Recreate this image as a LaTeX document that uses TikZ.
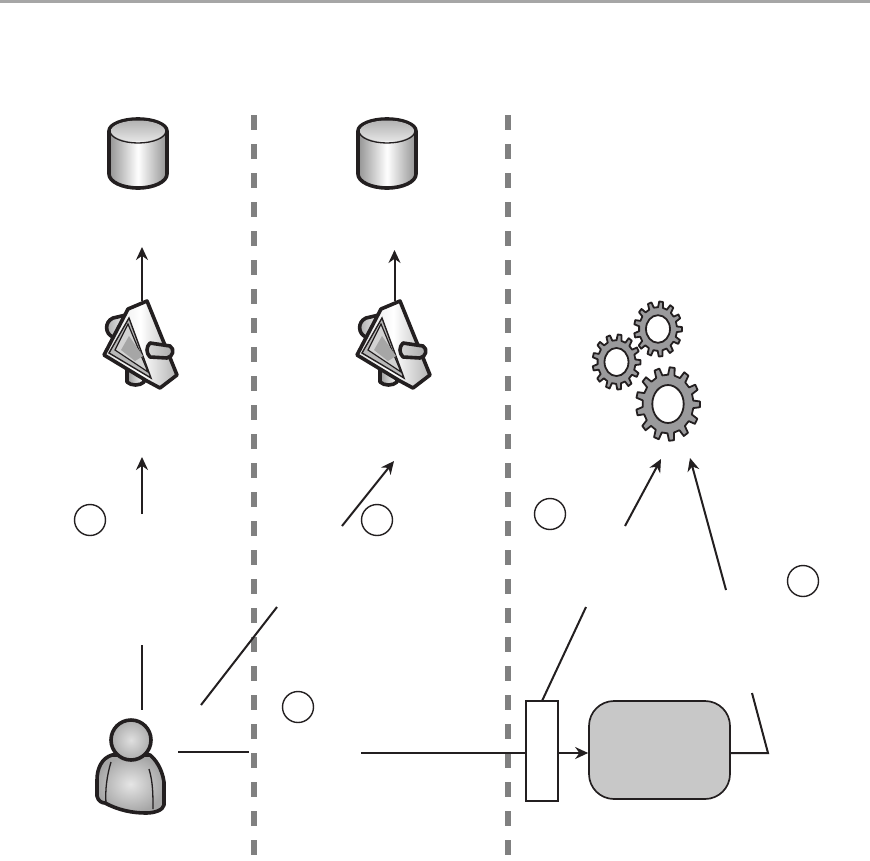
\documentclass[tikz,border=0pt]{standalone}
\usetikzlibrary{arrows.meta,shadings}
\definecolor{ink}{HTML}{231F20}
\definecolor{dashgray}{HTML}{808080}
\definecolor{boxgray}{HTML}{C8C8C8}
\definecolor{geargray}{HTML}{9A9A9C}
\tikzset{
  conn/.style={draw=ink,line width=2pt},
  arr/.style={conn,-{Stealth[length=13pt,width=12pt]}},
  sep/.style={draw=dashgray,line width=6pt,dash pattern=on 15pt off 14pt},
  marker/.style={circle,draw=ink,line width=1.4pt,fill=white,minimum size=31pt,inner sep=0pt},
  iconline/.style={postaction={draw=ink,line width=3.6pt,line join=round}},
  thinline/.style={draw=ink,line width=1.3pt},
  gearbody/.style={draw=ink,line width=1.8pt,fill=geargray,even odd rule,line join=round},
  pics/cyl/.style={code={
    \path[iconline,left color=gray!85,right color=gray!85,middle color=white]
      (-29,0) -- (-29,43) arc[start angle=180,end angle=0,x radius=29,y radius=14]
      -- (29,0) arc[start angle=0,end angle=-180,x radius=29,y radius=12] -- cycle;
    \path[top color=gray!60,bottom color=gray!20] (0,0) ellipse[x radius=27,y radius=10.5];
    \draw[thinline] (-28,0) arc[start angle=180,end angle=0,x radius=28,y radius=12];
  }},
  pics/prism/.style={code={
    \path[iconline,left color=gray!70,right color=white] (-29,17) -- (-16,14) -- (-12,32) -- (-29,36)
       .. controls (-37,33) and (-38,21) .. (-29,17) -- cycle;
    \path[iconline,left color=gray!80,right color=white] (-15,65) -- (-15,81)
       .. controls (-11,85) and (-2,85) .. (2,81) -- (2,65) -- cycle;
    \path[iconline,left color=gray!25,right color=gray!60,middle color=white]
      (5,0) -- (-14,8) -- (-38,54) -- (5,80) -- (18,87) -- (35,74) -- cycle;
    \path[draw=ink,line width=1.4pt,fill=gray!55] (-13,17) -- (-33,52) -- (9,77) -- cycle;
    \path[draw=ink,line width=1.2pt,fill=gray!35] (-14,23) -- (-27,49) -- (6,71) -- cycle;
    \path[fill=gray!70] (-13,35) -- (-21,49) -- (-7,60) -- (1,55) -- cycle;
    \path[iconline,left color=gray!30,right color=gray!70] (8,42)
       -- (28,45) .. controls (33,48) and (31,56) .. (25,57) -- (8,56)
       .. controls (4,52) and (4,46) .. (8,42) -- cycle;
  }}
}
\newcommand{\gearicon}[6]{% cx cy outer inner hole-x hole-y
  \def\gearpath{}%
  \foreach \gi in {0,...,12}{%
    \pgfmathsetmacro{\ga}{\gi*360/13-4}%
    \pgfmathsetmacro{\gb}{\ga+9}%
    \pgfmathsetmacro{\gc}{\ga+12}%
    \pgfmathsetmacro{\gd}{\ga+25}%
    \xdef\gearpath{\gearpath (\ga:#3) -- (\gb:#3) -- (\gc:#4) -- (\gd:#4) -- }%
  }%
  \begin{scope}[shift={(#1,#2)},yscale=1.15]
    \edef\gearcmd{\noexpand\path[gearbody] \gearpath cycle (0,0) ellipse[x radius=#5,y radius=#6];}%
    \gearcmd
  \end{scope}%
}
\begin{document}
\begin{tikzpicture}[x=1pt,y=-1pt]
\useasboundingbox (0,0) rectangle (870,860);
\fill[white] (0,0) rectangle (870,860);
\fill[gray!70] (0,0) rectangle (870,3);

\coordinate (sepAtop) at (254,115); \coordinate (sepAbot) at (254,860);
\coordinate (sepBtop) at (508,115); \coordinate (sepBbot) at (508,860);
\draw[sep] (sepAtop) -- (sepAbot);
\draw[sep] (sepBtop) -- (sepBbot);

\pic at (138,131) {cyl};
\pic at (387,131) {cyl};
\pic at (142,301) {prism};
\pic at (395,301) {prism};

\gearicon{658}{329}{24}{19}{12}{12}
\gearicon{616.5}{362}{24}{19}{12}{12.2}
\gearicon{668}{404}{32}{25.5}{15.7}{16.5}

% person
\path[iconline,inner color=gray!20,outer color=gray!70]
  (112,755) .. controls (102,758) and (97,768) .. (97,780) -- (97,796)
  .. controls (98,801) and (102,803) .. (105,803)
  .. controls (118,810) and (132,813) .. (146,813)
  .. controls (155,813) and (163,810) .. (164,805)
  -- (164,782) .. controls (162,768) and (155,759) .. (150,755) -- cycle;
\draw[thinline] (111,762) .. controls (107,775) and (105,790) .. (106,803);
\draw[thinline] (149,769) .. controls (153,782) and (153,795) .. (153,809);
\path[iconline,inner color=gray!25,outer color=gray!65] (131,740) circle[radius=20];
\coordinate (person) at (178,752);

% markers
\node[marker] (m1) at (90,520) {};
\node[marker] (m2) at (377,520) {};
\node[marker] (m3) at (550,514) {};
\node[marker] (m4) at (803,581) {};
\node[marker] (m5) at (298,707) {};

% boxes
\node[draw=ink,line width=2pt,fill=white,minimum width=32pt,minimum height=100pt,inner sep=0pt] (gate) at (542,751) {};
\node[draw=ink,line width=1.7pt,fill=boxgray,rounded corners=25pt,minimum width=141pt,minimum height=98pt,inner sep=0pt] (app) at (659.5,750) {};

% connectors
\coordinate (a1s) at (142,301); \coordinate (a1e) at (142,247);
\draw[arr] (a1s) -- (a1e);
\coordinate (a2s) at (394.5,301); \coordinate (a2e) at (394.5,250);
\draw[arr] (a2s) -- (a2e);
\coordinate (a3s) at (142,514); \coordinate (a3e) at (142,457);
\draw[arr] (a3s) -- (a3e);
\coordinate (a4s) at (342,526); \coordinate (a4e) at (394,461);
\draw[arr] (a4s) -- (a4e);
\coordinate (a5s) at (625,526); \coordinate (a5e) at (661,459);
\draw[arr] (a5s) -- (a5e);
\coordinate (a6s) at (726,590); \coordinate (a6e) at (690,458);
\draw[arr] (a6s) -- (a6e);
\coordinate (l1s) at (142,645); \coordinate (l1e) at (142,710);
\draw[conn] (l1s) -- (l1e);
\coordinate (l2s) at (277,607); \coordinate (l2e) at (201,705);
\draw[conn] (l2s) -- (l2e);
\coordinate (l3e) at (249,752);
\draw[conn] (person) -- (l3e);
\coordinate (l4s) at (361,753);
\draw[conn] (l4s) -- (gate.west |- l4s);
\coordinate (l5s) at (586,607);
\draw[conn] (l5s) -- (542,701);
\draw[arr] (gate.east |- l4s) -- (app.west |- l4s);
\coordinate (k1) at (768,753); \coordinate (k2) at (752,693);
\draw[conn,line join=miter] (app.east |- k1) -- (k1) -- (k2);
\end{tikzpicture}
\end{document}
